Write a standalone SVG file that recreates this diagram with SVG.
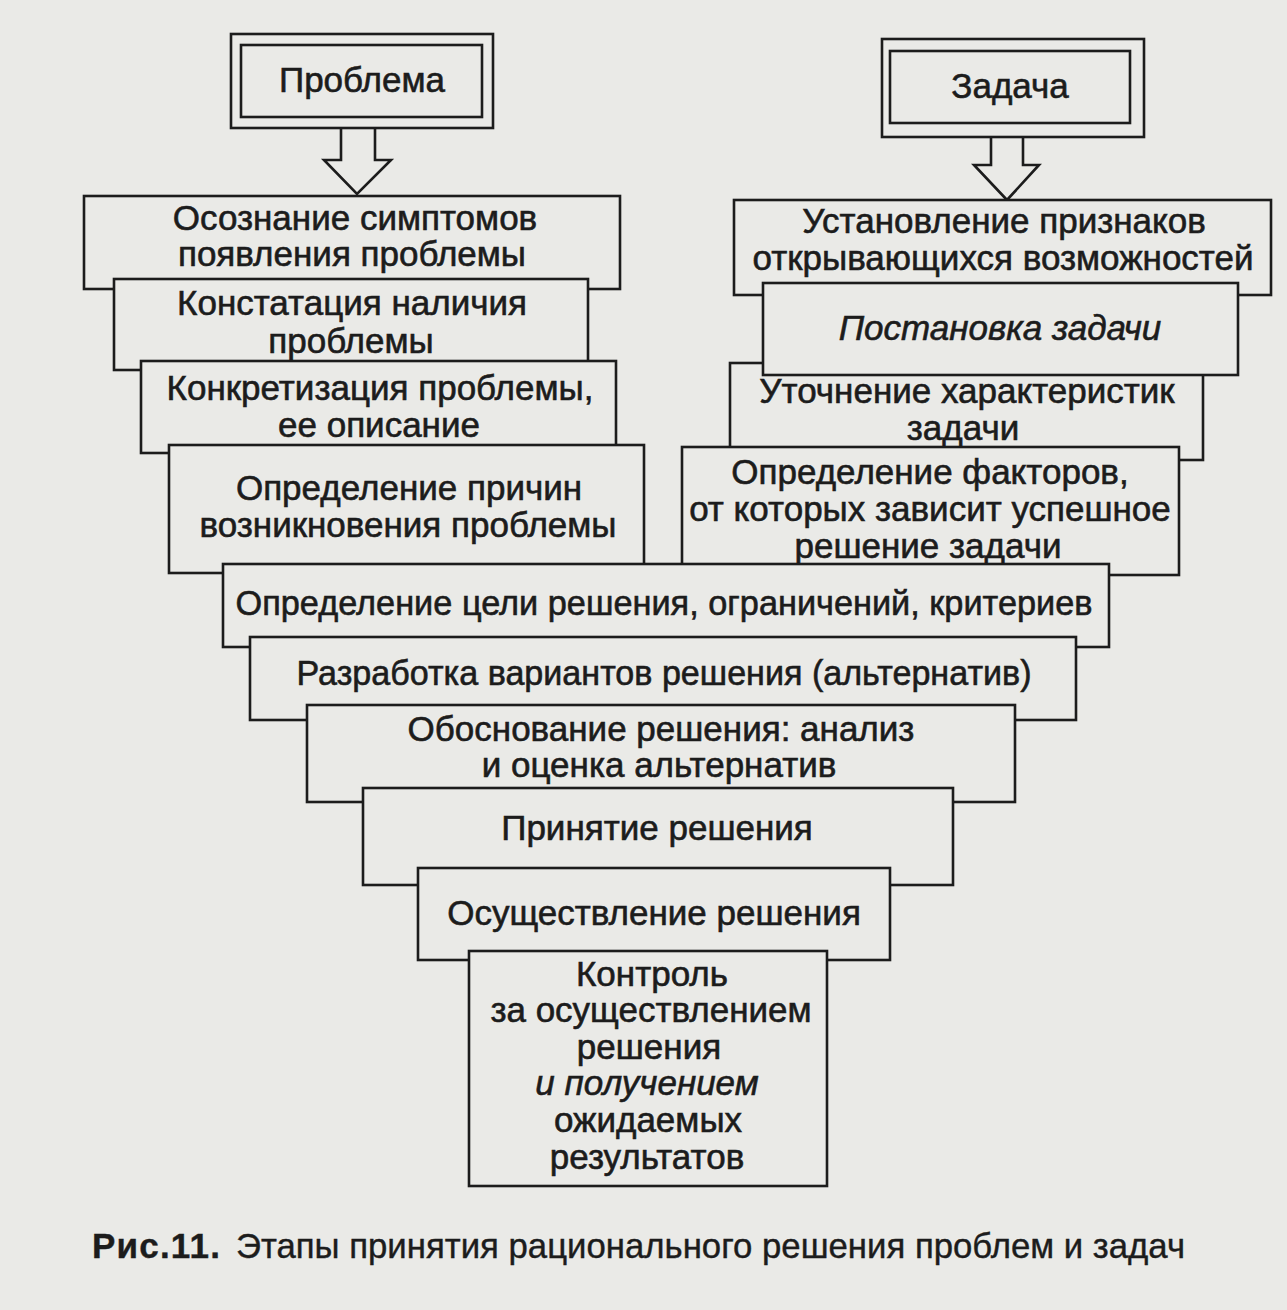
<svg xmlns="http://www.w3.org/2000/svg" width="1287" height="1310" viewBox="0 0 1287 1310">
<style>
.bg{fill:#eaeae7}
.box{fill:#eaeae7;stroke:#1c1c1c;stroke-width:2.6}
.t{font-family:"Liberation Sans",Arial,sans-serif;font-size:35px;fill:#1c1c1c;stroke:#1c1c1c;stroke-width:0.6;text-anchor:middle}
.i{font-style:italic}
.cap{font-family:"Liberation Sans",Arial,sans-serif;font-size:35px;fill:#1c1c1c;stroke:#1c1c1c;stroke-width:0.4}
</style>
<rect class="bg" x="0" y="0" width="1287" height="1310"/>
<g id="connectors">
  <polyline class="box" points="341,128 341,160 324,160 357,194 391,160 375,160 375,128"/>
  <polyline class="box" points="991,137 991,165 974,165 1007,200 1039,165 1023,165 1023,137"/>
</g>
<g id="problem">
  <rect class="box" x="231" y="34" width="262" height="94"/>
  <rect class="box" x="241" y="45" width="241" height="72"/>
  <text class="t" x="362" y="92">Проблема</text>
</g>
<g id="task">
  <rect class="box" x="882" y="39" width="262" height="98"/>
  <rect class="box" x="890" y="51" width="240" height="72"/>
  <text class="t" x="1010" y="98">Задача</text>
</g>
<g id="a1">
  <rect class="box" x="84" y="196" width="536" height="93"/>
  <text class="t" x="355" y="230">Осознание симптомов</text>
  <text class="t" x="352" y="266">появления проблемы</text>
</g>
<g id="a2">
  <rect class="box" x="114" y="279" width="474" height="91"/>
  <text class="t" x="352" y="315">Констатация наличия</text>
  <text class="t" x="351" y="353">проблемы</text>
</g>
<g id="a3">
  <rect class="box" x="141" y="361" width="475" height="92"/>
  <text class="t" x="380" y="400">Конкретизация проблемы,</text>
  <text class="t" x="379" y="437">ее описание</text>
</g>
<g id="a4">
  <rect class="box" x="169" y="445" width="475" height="128"/>
  <text class="t" x="409" y="500">Определение причин</text>
  <text class="t" x="408" y="537">возникновения проблемы</text>
</g>
<g id="b1">
  <rect class="box" x="734" y="200" width="537" height="95"/>
  <text class="t" x="1004" y="233">Установление признаков</text>
  <text class="t" x="1003" y="270">открывающихся возможностей</text>
</g>
<g id="b3">
  <rect class="box" x="730" y="363" width="473" height="97"/>
  <text class="t" x="967" y="403">Уточнение характеристик</text>
  <text class="t" x="963" y="440">задачи</text>
</g>
<g id="b2">
  <rect class="box" x="763" y="283" width="475" height="92"/>
  <text class="t i" x="1000" y="340">Постановка задачи</text>
</g>
<g id="b4">
  <rect class="box" x="682" y="447" width="497" height="128"/>
  <text class="t" x="930" y="484">Определение факторов,</text>
  <text class="t" x="930" y="521">от которых зависит успешное</text>
  <text class="t" x="928" y="558">решение задачи</text>
</g>
<g id="c1">
  <rect class="box" x="223" y="564" width="886" height="83"/>
  <text class="t" x="664" y="615" textLength="857" lengthAdjust="spacingAndGlyphs">Определение цели решения, ограничений, критериев</text>
</g>
<g id="c2">
  <rect class="box" x="250" y="637" width="826" height="83"/>
  <text class="t" x="664" y="685" textLength="735" lengthAdjust="spacingAndGlyphs">Разработка вариантов решения (альтернатив)</text>
</g>
<g id="c3">
  <rect class="box" x="307" y="705" width="708" height="97"/>
  <text class="t" x="661" y="741">Обоснование решения: анализ</text>
  <text class="t" x="659" y="777">и оценка альтернатив</text>
</g>
<g id="c4">
  <rect class="box" x="363" y="788" width="590" height="97"/>
  <text class="t" x="657" y="840">Принятие решения</text>
</g>
<g id="c5">
  <rect class="box" x="418" y="868" width="472" height="92"/>
  <text class="t" x="654" y="925">Осуществление решения</text>
</g>
<g id="c6">
  <rect class="box" x="469" y="951" width="358" height="235"/>
  <text class="t" x="652" y="986">Контроль</text>
  <text class="t" x="651" y="1022">за осуществлением</text>
  <text class="t" x="649" y="1059">решения</text>
  <text class="t i" x="647" y="1095">и получением</text>
  <text class="t" x="648" y="1132">ожидаемых</text>
  <text class="t" x="647" y="1169">результатов</text>
</g>
<g id="caption">
  <text class="cap" x="92" y="1258" font-weight="bold" textLength="128" lengthAdjust="spacing">Рис.11.</text>
  <text class="cap" x="236" y="1258" textLength="949" lengthAdjust="spacingAndGlyphs">Этапы принятия рационального решения проблем и задач</text>
</g>
</svg>
